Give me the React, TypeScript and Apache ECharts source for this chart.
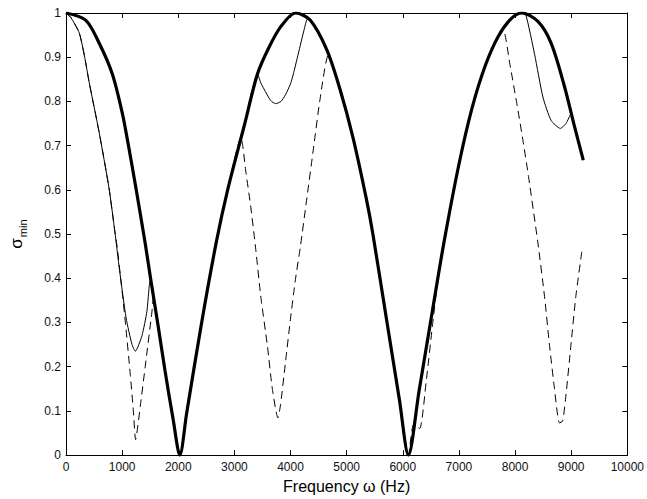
import React, { useEffect, useRef } from "react";
import * as echarts from "echarts";

// Frequency (Hz) / sigma_min pairs
const boundCurve: [number, number][] = [
  [0, 1.0], [350, 0.984], [590, 0.932], [825, 0.862], [1000, 0.775], [1120, 0.695],
  [1235, 0.612], [1410, 0.48], [1500, 0.405], [1650, 0.285], [1765, 0.19], [1910, 0.08],
  [2028, 0], [2150, 0.095], [2410, 0.295], [2675, 0.48], [2880, 0.6], [3175, 0.745],
  [3411, 0.862], [3600, 0.918], [3820, 0.968], [4090, 1.0], [4350, 0.984], [4645, 0.917],
  [4880, 0.828], [5115, 0.717], [5350, 0.58], [5467, 0.5], [5700, 0.315], [5940, 0.125],
  [6100, 0], [6290, 0.145], [6526, 0.325], [6732, 0.48], [6996, 0.655], [7230, 0.783],
  [7467, 0.88], [7700, 0.947], [7937, 0.988], [8125, 1.0], [8407, 0.981], [8642, 0.932],
  [8878, 0.835], [9054, 0.746], [9215, 0.667],
];

const solidCurve: [number, number][] = [
  [0, 1.0], [85, 0.99], [236, 0.955], [333, 0.9], [413, 0.843], [589, 0.731], [765, 0.605],
  [871, 0.505], [952, 0.42], [1071, 0.31], [1176, 0.25], [1235, 0.235], [1353, 0.27],
  [1441, 0.325], [1500, 0.395], [1650, 0.285], [1765, 0.19], [1910, 0.08], [2028, 0],
  [2150, 0.095], [2410, 0.295], [2675, 0.48], [2880, 0.6], [3175, 0.745], [3411, 0.862],
  [3470, 0.842], [3528, 0.828], [3646, 0.802], [3734, 0.795], [3830, 0.8], [3910, 0.815],
  [4000, 0.84], [4056, 0.865], [4150, 0.914], [4263, 0.973], [4300, 0.986], [4350, 0.984],
  [4645, 0.917], [4880, 0.828], [5115, 0.717], [5350, 0.58], [5467, 0.5], [5700, 0.315],
  [5940, 0.125], [6100, 0], [6290, 0.145], [6526, 0.325], [6732, 0.48], [6996, 0.655],
  [7230, 0.783], [7467, 0.88], [7700, 0.947], [7937, 0.988], [8125, 1.0], [8190, 0.997],
  [8349, 0.906], [8496, 0.81], [8642, 0.757], [8807, 0.739], [8907, 0.75], [9000, 0.772],
  [9054, 0.746], [9215, 0.667],
];

const dashedCurve: [number, number][] = [
  [0, 1.0], [85, 0.99], [236, 0.955], [333, 0.9], [413, 0.843], [589, 0.731], [765, 0.605],
  [871, 0.505], [912, 0.47], [1000, 0.37], [1058, 0.3], [1147, 0.18], [1200, 0.1],
  [1240, 0.035], [1323, 0.11], [1411, 0.2], [1529, 0.322], [1560, 0.357], [1650, 0.285],
  [1765, 0.19], [1910, 0.08], [2028, 0], [2150, 0.095], [2410, 0.295], [2675, 0.48],
  [2880, 0.6], [3116, 0.718], [3205, 0.64], [3293, 0.56], [3381, 0.465], [3469, 0.36],
  [3587, 0.248], [3675, 0.151], [3775, 0.084], [3822, 0.114], [3910, 0.21], [3998, 0.307],
  [4087, 0.397], [4175, 0.471], [4293, 0.583], [4409, 0.694], [4527, 0.806], [4674, 0.905],
  [4880, 0.828], [5115, 0.717], [5350, 0.58], [5467, 0.5], [5700, 0.315], [5940, 0.125],
  [6100, 0], [6190, 0.069], [6300, 0.06], [6420, 0.17], [6526, 0.29], [6600, 0.37],
  [6732, 0.48], [6996, 0.655], [7230, 0.783], [7467, 0.88], [7700, 0.947], [7790, 0.962],
  [7908, 0.884], [8025, 0.8], [8143, 0.71], [8240, 0.63], [8407, 0.48], [8525, 0.359],
  [8614, 0.248], [8702, 0.151], [8790, 0.073], [8848, 0.077], [8907, 0.136], [8995, 0.248],
  [9083, 0.359], [9189, 0.46],
];

const xMin = 0;
const xMax = 10000;
const xStep = 1000;
const yMin = 0;
const yMax = 1;
const yStep = 0.1;

const FONT = "Liberation Sans, Arial, sans-serif";

export default function App() {
  const ref = useRef<HTMLDivElement>(null);
  useEffect(() => {
    if (!ref.current) return;
    const chart = echarts.init(ref.current, undefined, { renderer: "svg" });
    const axisLine = { show: true, onZero: false, lineStyle: { color: "#000", width: 1 } };
    const tick = { show: true, inside: true, length: 5, lineStyle: { color: "#000", width: 1 } };
    const labelStyle = { color: "#111", fontSize: 12, fontFamily: FONT };
    chart.setOption({
      animation: false,
      backgroundColor: "#fff",
      grid: { left: 63, right: 17, top: 13, bottom: 38, containLabel: false },
      xAxis: [
        {
          type: "value", min: xMin, max: xMax, interval: xStep, position: "bottom",
          axisLine, axisTick: tick, splitLine: { show: false },
          axisLabel: { ...labelStyle, margin: 6, formatter: (v: number) => String(v) },
          name: "Frequency ω (Hz)", nameLocation: "middle", nameGap: 20,
          nameTextStyle: { color: "#000", fontSize: 16, fontFamily: FONT },
        },
        {
          type: "value", min: xMin, max: xMax, interval: xStep, position: "top",
          axisLine, axisTick: tick, splitLine: { show: false }, axisLabel: { show: false },
        },
      ],
      yAxis: [
        {
          type: "value", min: yMin, max: yMax, interval: yStep, position: "left",
          axisLine, axisTick: tick, splitLine: { show: false },
          axisLabel: { ...labelStyle, margin: 5, formatter: (v: number) => String(Math.round(v * 10) / 10) },
          name: "{s|σ}{m|min}", nameLocation: "middle", nameGap: 38, nameRotate: 90,
          nameTextStyle: {
            color: "#000", fontFamily: FONT,
            rich: {
              s: { fontSize: 17, fontFamily: FONT, color: "#000", verticalAlign: "top" },
              m: { fontSize: 11, fontFamily: FONT, color: "#000", padding: [9, 0, 0, 1] },
            },
          },
        },
        {
          type: "value", min: yMin, max: yMax, interval: yStep, position: "right",
          axisLine, axisTick: tick, splitLine: { show: false }, axisLabel: { show: false },
        },
      ],
      series: [
        {
          type: "line", data: dashedCurve, showSymbol: false, symbol: "none", smooth: 0.2,
          lineStyle: { color: "#000", width: 1, type: [8, 5] }, z: 2,
        },
        {
          type: "line", data: solidCurve, showSymbol: false, symbol: "none", smooth: 0.2,
          lineStyle: { color: "#000", width: 1 }, z: 3,
        },
        {
          type: "line", data: boundCurve, showSymbol: false, symbol: "none", smooth: 0.3,
          lineStyle: { color: "#000", width: 3.2 }, z: 4,
        },
      ],
    });
    return () => chart.dispose();
  }, []);
  return <div ref={ref} style={{ width: 647, height: 499, position: "absolute", left: 0, top: 0 }} />;
}
